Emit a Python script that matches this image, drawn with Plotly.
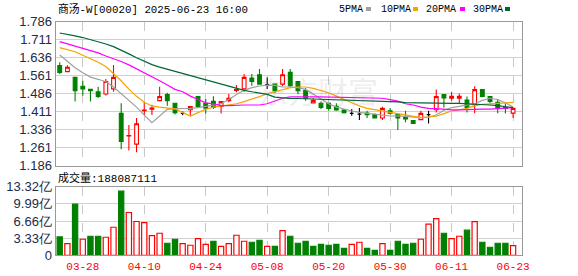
import plotly.graph_objects as go

# ---------------- data ----------------
dates = [
    "2025-03-25", "2025-03-26", "2025-03-27", "2025-03-28", "2025-03-31",
    "2025-04-01", "2025-04-02", "2025-04-03", "2025-04-07", "2025-04-08",
    "2025-04-09", "2025-04-10", "2025-04-11", "2025-04-14", "2025-04-15",
    "2025-04-16", "2025-04-17", "2025-04-22", "2025-04-23", "2025-04-24",
    "2025-04-25", "2025-04-28", "2025-04-29", "2025-04-30", "2025-05-02",
    "2025-05-06", "2025-05-07", "2025-05-08", "2025-05-09", "2025-05-12",
    "2025-05-13", "2025-05-14", "2025-05-15", "2025-05-16", "2025-05-19",
    "2025-05-20", "2025-05-21", "2025-05-22", "2025-05-23", "2025-05-26",
    "2025-05-27", "2025-05-28", "2025-05-29", "2025-05-30", "2025-06-02",
    "2025-06-03", "2025-06-04", "2025-06-05", "2025-06-06", "2025-06-09",
    "2025-06-10", "2025-06-11", "2025-06-12", "2025-06-13", "2025-06-16",
    "2025-06-17", "2025-06-18", "2025-06-19", "2025-06-20", "2025-06-23",
]
open_ = [1.603, 1.578, 1.554, 1.517, 1.504, 1.494, 1.485, 1.506, 1.404, 1.310,
         1.276, 1.415, 1.421, 1.457, 1.482, 1.446, 1.404, 1.419, 1.474, 1.446,
         1.454, 1.433, 1.457, 1.500, 1.506, 1.551, 1.565, 1.524, 1.526, 1.526,
         1.575, 1.537, 1.499, 1.447, 1.446, 1.446, 1.433, 1.418, 1.404, 1.401,
         1.405, 1.399, 1.385, 1.415, 1.399, 1.387, 1.374, 1.378, 1.399, 1.419,
         1.482, 1.467, 1.467, 1.460, 1.440, 1.503, 1.474, 1.450, 1.429, 1.405]
high = [1.617, 1.605, 1.554, 1.540, 1.504, 1.515, 1.547, 1.606, 1.446, 1.356,
        1.385, 1.450, 1.440, 1.515, 1.490, 1.446, 1.412, 1.432, 1.474, 1.464,
        1.475, 1.453, 1.485, 1.522, 1.568, 1.568, 1.589, 1.554, 1.526, 1.589,
        1.589, 1.537, 1.510, 1.467, 1.454, 1.446, 1.446, 1.422, 1.422, 1.426,
        1.415, 1.404, 1.432, 1.426, 1.399, 1.415, 1.374, 1.415, 1.415, 1.503,
        1.482, 1.494, 1.487, 1.474, 1.517, 1.503, 1.474, 1.464, 1.446, 1.429]
low = [1.568, 1.578, 1.454, 1.478, 1.454, 1.468, 1.478, 1.494, 1.255, 1.249,
       1.242, 1.397, 1.397, 1.457, 1.436, 1.399, 1.396, 1.393, 1.426, 1.404,
       1.422, 1.404, 1.450, 1.492, 1.494, 1.519, 1.524, 1.506, 1.489, 1.517,
       1.515, 1.485, 1.457, 1.447, 1.422, 1.415, 1.415, 1.404, 1.394, 1.376,
       1.385, 1.385, 1.376, 1.399, 1.335, 1.367, 1.362, 1.378, 1.362, 1.408,
       1.429, 1.457, 1.443, 1.408, 1.405, 1.471, 1.446, 1.405, 1.404, 1.385]
close = [1.575, 1.596, 1.499, 1.506, 1.499, 1.475, 1.537, 1.554, 1.287, 1.312,
         1.361, 1.418, 1.426, 1.474, 1.457, 1.407, 1.404, 1.432, 1.433, 1.426,
         1.429, 1.453, 1.467, 1.503, 1.554, 1.537, 1.526, 1.524, 1.499, 1.565,
         1.519, 1.499, 1.467, 1.457, 1.429, 1.425, 1.418, 1.407, 1.404, 1.401,
         1.399, 1.385, 1.425, 1.405, 1.385, 1.381, 1.362, 1.404, 1.399, 1.474,
         1.468, 1.475, 1.475, 1.429, 1.503, 1.475, 1.454, 1.426, 1.425, 1.425]

# volume in 亿 (1e8 shares); last value = 188087111
volume_yi = [3.57, 2.27, 9.93, 3.12, 3.70, 3.70, 3.50, 5.45, 12.46, 8.31,
             6.56, 6.36, 3.83, 4.28, 2.34, 3.12, 2.27, 1.95, 3.25, 2.14,
             2.73, 1.75, 2.27, 3.89, 2.73, 2.53, 2.92, 1.75, 1.75, 4.80,
             3.70, 2.34, 2.73, 1.75, 2.14, 1.95, 2.14, 1.36, 2.14, 2.53,
             1.36, 0.97, 2.27, 0.97, 2.73, 2.14, 2.34, 3.12, 6.04, 7.14,
             4.28, 3.25, 3.70, 4.87, 6.55, 2.53, 1.56, 2.34, 2.34, 1.88087111]
vol_up = [0, 1, 0, 1, 0, 0, 1, 1, 0, 1, 1, 1, 1, 1, 0, 0, 1, 1, 1, 1,
          0, 1, 1, 1, 1, 0, 0, 1, 0, 1, 0, 0, 0, 0, 0, 0, 0, 0, 1, 1,
          0, 0, 1, 0, 0, 0, 0, 1, 1, 1, 0, 1, 1, 0, 1, 0, 0, 0, 0, 1]

ma5 = [1.647, 1.619, 1.594, 1.573, 1.555, 1.546, 1.536, 1.514, 1.486, 1.458,
       1.430, 1.397, 1.365, 1.393, 1.421, 1.424, 1.424, 1.425, 1.428, 1.433,
       1.437, 1.444, 1.462, 1.483, 1.500, 1.511, 1.518, 1.522, 1.521, 1.514,
       1.514, 1.511, 1.504, 1.483, 1.462, 1.444, 1.430, 1.421, 1.414, 1.408,
       1.404, 1.400, 1.397, 1.393, 1.394, 1.392, 1.389, 1.386, 1.389, 1.397,
       1.417, 1.428, 1.433, 1.439, 1.444, 1.458, 1.467, 1.462, 1.448, 1.430]
ma10 = [1.678, 1.669, 1.661, 1.646, 1.632, 1.617, 1.599, 1.571, 1.540, 1.505,
        1.475, 1.450, 1.435, 1.430, 1.426, 1.423, 1.407, 1.393, 1.407, 1.421,
        1.430, 1.435, 1.437, 1.444, 1.453, 1.462, 1.474, 1.486, 1.494, 1.504,
        1.511, 1.514, 1.514, 1.508, 1.500, 1.490, 1.476, 1.462, 1.448, 1.435,
        1.425, 1.419, 1.414, 1.408, 1.403, 1.397, 1.389, 1.386, 1.389, 1.392,
        1.403, 1.414, 1.419, 1.425, 1.435, 1.442, 1.444, 1.447, 1.450, 1.450]
ma20 = [1.703, 1.694, 1.686, 1.677, 1.667, 1.656, 1.643, 1.632, 1.620, 1.606,
        1.590, 1.572, 1.555, 1.540, 1.522, 1.504, 1.494, 1.476, 1.462, 1.448,
        1.444, 1.436, 1.436, 1.439, 1.439, 1.439, 1.439, 1.444, 1.455, 1.467,
        1.473, 1.474, 1.474, 1.473, 1.473, 1.472, 1.472, 1.471, 1.470, 1.470,
        1.469, 1.467, 1.467, 1.461, 1.455, 1.444, 1.439, 1.430, 1.425, 1.424,
        1.421, 1.419, 1.419, 1.421, 1.421, 1.422, 1.422, 1.424, 1.425, 1.428]
ma30 = [1.739, 1.734, 1.727, 1.720, 1.712, 1.703, 1.693, 1.682, 1.668, 1.652,
        1.636, 1.620, 1.607, 1.597, 1.588, 1.579, 1.570, 1.562, 1.554, 1.545,
        1.535, 1.525, 1.517, 1.508, 1.500, 1.494, 1.489, 1.483, 1.472, 1.468,
        1.466, 1.466, 1.465, 1.465, 1.464, 1.463, 1.462, 1.461, 1.460, 1.458,
        1.456, 1.455, 1.454, 1.453, 1.452, 1.449, 1.448, 1.447, 1.447, 1.447,
        1.447, 1.446, 1.446, 1.445, 1.444, 1.442, 1.439, 1.436, 1.432, 1.428]

ma_names = ["5PMA", "10PMA", "20PMA", "30PMA"]
price_ticks = [1.186, 1.261, 1.336, 1.411, 1.486, 1.561, 1.636, 1.711, 1.786]
vol_ticks_yi = [0, 3.33, 6.66, 9.99, 13.32]
tick_dates = ["2025-03-28", "2025-04-10", "2025-04-24", "2025-05-08",
              "2025-05-20", "2025-05-30", "2025-06-11", "2025-06-23"]
tick_labels = ["03-28", "04-10", "04-24", "05-08", "05-20", "05-30", "06-11", "06-23"]
title_text = "商汤-W[00020] 2025-06-23 16:00"
vol_title = "成交量:188087111"

# ---------------- styles ----------------
W, H = 578, 276
RED = "#ff0000"
GREEN = "#008000"
MA_COLORS = ["#a0a0a0", "#f5a300", "#ff00ff", "#006633"]
X0, X1 = 55.5, 522.3
PT, PB = 21.7, 165.7
VT, VB = 186.7, 255.3


def fx(px):
    return px / W


def fy(py):
    return 1 - py / H


fig = go.Figure()

# candles split by style
groups = {"up": [], "down": [], "flat": []}
for i in range(len(dates)):
    if close[i] > open_[i]:
        groups["up"].append(i)
    elif close[i] < open_[i]:
        groups["down"].append(i)
    else:
        groups["flat"].append(i)

styles = {
    "up": dict(line=RED, fill="#ffffff"),
    "down": dict(line=GREEN, fill=GREEN),
    "flat": dict(line="#000000", fill="#000000"),
}
for key, idx in groups.items():
    if not idx:
        continue
    st = styles[key]
    fig.add_trace(go.Candlestick(
        x=[dates[i] for i in idx],
        open=[open_[i] for i in idx],
        high=[high[i] for i in idx],
        low=[low[i] for i in idx],
        close=[close[i] for i in idx],
        increasing=dict(line=dict(color=st["line"], width=1.1), fillcolor=st["fill"]),
        decreasing=dict(line=dict(color=st["line"], width=1.1), fillcolor=st["fill"]),
        whiskerwidth=0,
        showlegend=False, hoverinfo="skip",
        xaxis="x", yaxis="y",
    ))

for name, vals, col in zip(ma_names, [ma5, ma10, ma20, ma30], MA_COLORS):
    fig.add_trace(go.Scatter(
        x=dates, y=vals, mode="lines", name=name,
        line=dict(color=col, width=1.2),
        showlegend=False, hoverinfo="skip",
        xaxis="x", yaxis="y",
    ))

fig.add_trace(go.Bar(
    x=dates,
    y=[v * 1e8 for v in volume_yi],
    marker=dict(
        color=["#ffffff" if u else GREEN for u in vol_up],
        line=dict(color=[RED if u else GREEN for u in vol_up], width=1.2),
    ),
    showlegend=False, hoverinfo="skip",
    xaxis="x2", yaxis="y2",
))

label_font = dict(family="Liberation Sans, Arial, sans-serif", size=13, color="#1c2a48")
xcommon = dict(
    type="category", categoryorder="array", categoryarray=dates,
    range=[-0.55, 60.2], domain=[fx(X0), fx(X1)],
    tickvals=tick_dates, ticktext=tick_labels,
    showgrid=True, gridcolor="#c8c8c8", griddash="dash", gridwidth=1,
    showline=True, mirror=True, linecolor="#999999", linewidth=1,
    ticks="", fixedrange=True, automargin=False,
    rangeslider=dict(visible=False),
)

fig.update_layout(
    template="none",
    width=W, height=H,
    margin=dict(l=0, r=0, t=0, b=0, pad=0, autoexpand=False),
    paper_bgcolor="#ffffff", plot_bgcolor="#ffffff",
    showlegend=False,
    bargap=0.32,
    boxgap=0.3,
    xaxis=dict(xcommon, anchor="y", showticklabels=False),
    xaxis2=dict(xcommon, anchor="y2", showticklabels=True,
                tickfont=dict(family="Liberation Mono, monospace", size=11, color=RED)),
    yaxis=dict(
        domain=[fy(PB), fy(PT)], range=[price_ticks[0], price_ticks[-1]],
        tickvals=price_ticks, ticktext=["%.3f" % v for v in price_ticks],
        tickfont=label_font, showgrid=True, gridcolor="#d0d0d0", gridwidth=1,
        showline=True, mirror=True, linecolor="#999999", zeroline=False,
        ticks="", anchor="x", fixedrange=True, automargin=False,
    ),
    yaxis2=dict(
        domain=[fy(VB), fy(VT)], range=[0, vol_ticks_yi[-1] * 1e8],
        tickvals=[v * 1e8 for v in vol_ticks_yi],
        ticktext=["0" if v == 0 else ("%.2f亿" % v) for v in vol_ticks_yi],
        tickfont=label_font, showgrid=True, gridcolor="#d0d0d0", gridwidth=1,
        showline=True, mirror=True, linecolor="#999999", zeroline=False,
        ticks="", anchor="x2", fixedrange=True, automargin=False,
    ),
)

ann = []
ann.append(dict(text=title_text, x=fx(57), y=fy(8.5), xref="paper", yref="paper",
                xanchor="left", yanchor="middle", showarrow=False, borderpad=0,
                font=dict(family="Liberation Mono, Noto Sans CJK SC, monospace", size=10.8, color="#000000")))
ann.append(dict(text=vol_title, x=fx(57), y=fy(178), xref="paper", yref="paper",
                xanchor="left", yanchor="middle", showarrow=False, borderpad=0,
                font=dict(family="Liberation Mono, Noto Sans CJK SC, monospace", size=11, color="#000000")))
ann.append(dict(text="东方财富", x=fx(318), y=fy(90), xref="paper", yref="paper",
                xanchor="center", yanchor="middle", showarrow=False,
                font=dict(family="Noto Sans CJK SC", size=30, color="rgba(120,120,120,0.14)")))

legend_text_x = [338, 380, 425, 472]
legend_sq_x = [366, 413, 460, 505]
shapes = []
for name, col, tx, sx in zip(ma_names, MA_COLORS, legend_text_x, legend_sq_x):
    ann.append(dict(text=name, x=fx(tx), y=fy(9), xref="paper", yref="paper",
                    xanchor="left", yanchor="middle", showarrow=False, borderpad=0,
                    font=dict(family="Liberation Mono, monospace", size=10, color="#000000")))
    shapes.append(dict(type="rect", xref="paper", yref="paper",
                       x0=fx(sx), x1=fx(sx + 5), y0=fy(11), y1=fy(7),
                       fillcolor=col, line=dict(width=0)))

fig.update_layout(annotations=ann, shapes=shapes)

fig.write_html("out.html")
